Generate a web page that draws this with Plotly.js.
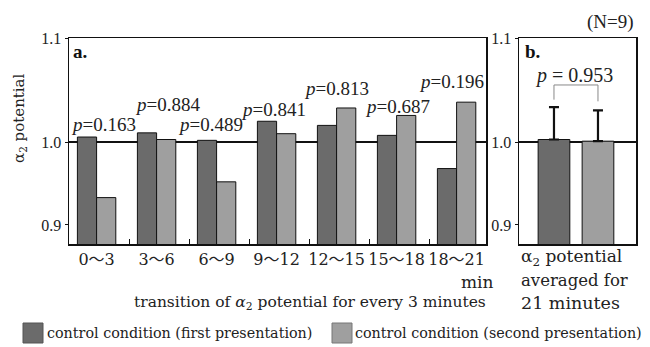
<!DOCTYPE html>
<html>
<head>
<meta charset="utf-8">
<script src="https://cdn.plot.ly/plotly-3.0.1.min.js"></script>
<style>html,body{margin:0;padding:0;background:#fff;}#chart{width:650px;height:347px;}</style>
</head>
<body>
<div id="chart"></div>
<script>
// ---- data ----
const categories = ['0〜3', '3〜6', '6〜9', '9〜12', '12〜15', '15〜18', '18〜21'];
const firstPresentation = [1.006, 1.011, 1.002, 1.025, 1.020, 1.008, 0.968];
const secondPresentation = [0.933, 1.003, 0.952, 1.010, 1.041, 1.032, 1.048];
const pValues = ['0.163', '0.884', '0.489', '0.841', '0.813', '0.687', '0.196'];
const averagedLabels = ['first', 'second'];
const averagedValues = [1.003, 1.001];
const averagedErrors = [0.039, 0.037];
const averagedP = '0.953';
const seriesNames = ['control condition (first presentation)', 'control condition (second presentation)'];
const yTickText = ['0.9', '1.0', '1.1'];

// ---- styles ----
const DARK = '#6b6b6b';
const LIGHT = '#9f9f9f';
const SERIF = '"Liberation Serif", "Times New Roman", serif';
const WSERIF = '"DejaVu Serif", "Noto Sans CJK JP", serif';
const W = 650, H = 347;
const px = v => v / W;
const py = v => 1 - v / H;

const idx = categories.map((c, i) => i);

const traces = [
  {type: 'bar', x: idx, y: firstPresentation, name: seriesNames[0], xaxis: 'x', yaxis: 'y',
   marker: {color: DARK, line: {color: '#111', width: 1}}, showlegend: false, hoverinfo: 'y'},
  {type: 'bar', x: idx, y: secondPresentation, name: seriesNames[1], xaxis: 'x', yaxis: 'y',
   marker: {color: LIGHT, line: {color: '#111', width: 1}}, showlegend: false, hoverinfo: 'y'},
  {type: 'bar', x: averagedLabels.map((c, i) => i), y: averagedValues, xaxis: 'x2', yaxis: 'y2',
   width: 0.72, marker: {color: [DARK, LIGHT], line: {color: '#111', width: 1}}, showlegend: false,
   error_y: {type: 'data', symmetric: false, array: averagedErrors, arrayminus: averagedErrors.map(() => 0),
             color: '#111', thickness: 2.2, width: 5}, hoverinfo: 'y'}
];

const yRange = [0.8771, 1.1253];
const yTickVals = [0.9, 1.0, yRange[1]];

const yAxisCommon = {
  range: yRange, showgrid: false, zeroline: false, showline: true, mirror: true,
  linecolor: '#111', linewidth: 1.5, ticks: 'outside', ticklen: 3, tickcolor: '#111',
  tickmode: 'array', tickvals: yTickVals, ticktext: yTickText,
  tickfont: {family: SERIF, size: 16, color: '#222'}
};

const annotations = [];
// p-value labels for each 3-minute interval
const pPos = [[0.12, 1.0205], [1.18, 1.0446], [1.89, 1.0205], [2.955, 1.0386], [3.99, 1.065], [5.02, 1.0422], [5.92, 1.0723]];
pValues.forEach((p, i) => {
  annotations.push({xref: 'x', yref: 'y', x: pPos[i][0], y: pPos[i][1], text: '<i>p</i>=' + p,
    showarrow: false, xanchor: 'center', yanchor: 'middle', font: {family: SERIF, size: 19, color: '#222'}});
});
annotations.push(
  {xref: 'x2', yref: 'y2', x: 0.45, y: 1.080, text: '<i>p</i> = ' + averagedP, showarrow: false,
   xanchor: 'center', yanchor: 'middle', font: {family: SERIF, size: 20, color: '#222'}},
  {xref: 'paper', yref: 'paper', x: px(71), y: py(52), text: '<b>a.</b>', showarrow: false, xanchor: 'left', yanchor: 'middle',
   font: {family: SERIF, size: 19, color: '#111'}},
  {xref: 'paper', yref: 'paper', x: px(523), y: py(52), text: '<b>b.</b>', showarrow: false, xanchor: 'left', yanchor: 'middle',
   font: {family: SERIF, size: 19, color: '#111'}},
  {xref: 'paper', yref: 'paper', x: px(636), y: py(22), text: '(N=9)', showarrow: false, xanchor: 'right', yanchor: 'middle',
   font: {family: SERIF, size: 19, color: '#222'}},
  {xref: 'paper', yref: 'paper', x: px(20), y: py(118), text: 'α<sub>2</sub> potential', textangle: -90, showarrow: false,
   xanchor: 'center', yanchor: 'middle', font: {family: WSERIF, size: 15, color: '#222'}},
  {xref: 'paper', yref: 'paper', x: px(496), y: py(282), text: 'min', showarrow: false, xanchor: 'right', yanchor: 'middle',
   font: {family: WSERIF, size: 17, color: '#222'}},
  {xref: 'paper', yref: 'paper', x: px(310), y: py(303), text: 'transition of <i>α</i><sub>2</sub> potential for every 3 minutes',
   showarrow: false, xanchor: 'center', yanchor: 'middle', font: {family: WSERIF, size: 15.5, color: '#222'}},
  {xref: 'paper', yref: 'paper', x: px(519), y: py(257), text: 'α<sub>2</sub> potential', showarrow: false, xanchor: 'left', yanchor: 'middle',
   font: {family: WSERIF, size: 17, color: '#222'}},
  {xref: 'paper', yref: 'paper', x: px(519), y: py(280), text: 'averaged for', showarrow: false, xanchor: 'left', yanchor: 'middle',
   font: {family: WSERIF, size: 16.5, color: '#222'}},
  {xref: 'paper', yref: 'paper', x: px(519), y: py(303), text: '21 minutes', showarrow: false, xanchor: 'left', yanchor: 'middle',
   font: {family: WSERIF, size: 17.5, color: '#222'}},
  {xref: 'paper', yref: 'paper', x: px(45), y: py(333), text: seriesNames[0], showarrow: false, xanchor: 'left', yanchor: 'middle',
   font: {family: WSERIF, size: 14.3, color: '#222'}},
  {xref: 'paper', yref: 'paper', x: px(353), y: py(333), text: seriesNames[1], showarrow: false, xanchor: 'left', yanchor: 'middle',
   font: {family: WSERIF, size: 14.3, color: '#222'}}
);

const shapes = [
  {type: 'line', xref: 'x domain', yref: 'y', x0: 0, x1: 1, y0: 1.0, y1: 1.0, layer: 'below', line: {color: '#111', width: 2}},
  {type: 'line', xref: 'x2 domain', yref: 'y2', x0: 0, x1: 1, y0: 1.0, y1: 1.0, layer: 'below', line: {color: '#111', width: 2}},
  {type: 'path', xref: 'x2', yref: 'y2', path: 'M 0,1.051 L 0,1.0687 L 1,1.0687 L 1,1.049', line: {color: '#888', width: 1}},
  {type: 'rect', xref: 'paper', yref: 'paper', x0: px(23), x1: px(43), y0: py(343), y1: py(323), fillcolor: DARK, line: {color: '#555', width: 1}},
  {type: 'rect', xref: 'paper', yref: 'paper', x0: px(332), x1: px(352), y0: py(343), y1: py(323), fillcolor: LIGHT, line: {color: '#777', width: 1}}
];

const layout = {
  width: W, height: H,
  margin: {l: 0, r: 0, t: 0, b: 0},
  paper_bgcolor: '#fff', plot_bgcolor: '#fff',
  barmode: 'group', bargap: 0.36, bargroupgap: 0,
  showlegend: false,
  xaxis: {
    domain: [px(69), px(486)], range: [-0.46, 6.49], showgrid: false, zeroline: false,
    showline: true, mirror: true, linecolor: '#111', linewidth: 1.5,
    tickmode: 'array', tickvals: idx, ticktext: categories, ticks: '',
    tickfont: {family: WSERIF, size: 16, color: '#222'},
    minor: {tickmode: 'array', tickvals: idx.slice(0, -1).map(i => i + 0.55), ticks: 'inside', ticklen: 5, tickcolor: '#111', tickwidth: 1, showgrid: false}
  },
  yaxis: Object.assign({domain: [py(244), py(38)], anchor: 'x'}, yAxisCommon),
  xaxis2: {
    domain: [px(519), px(636)], range: [-0.795, 1.864], anchor: 'y2', showgrid: false, zeroline: false,
    showline: true, mirror: true, linecolor: '#111', linewidth: 1.5, showticklabels: false, ticks: ''
  },
  yaxis2: Object.assign({domain: [py(244), py(38)], anchor: 'x2'}, yAxisCommon),
  annotations: annotations,
  shapes: shapes
};

Plotly.newPlot('chart', traces, layout, {displayModeBar: false, staticPlot: true});
</script>
</body>
</html>
